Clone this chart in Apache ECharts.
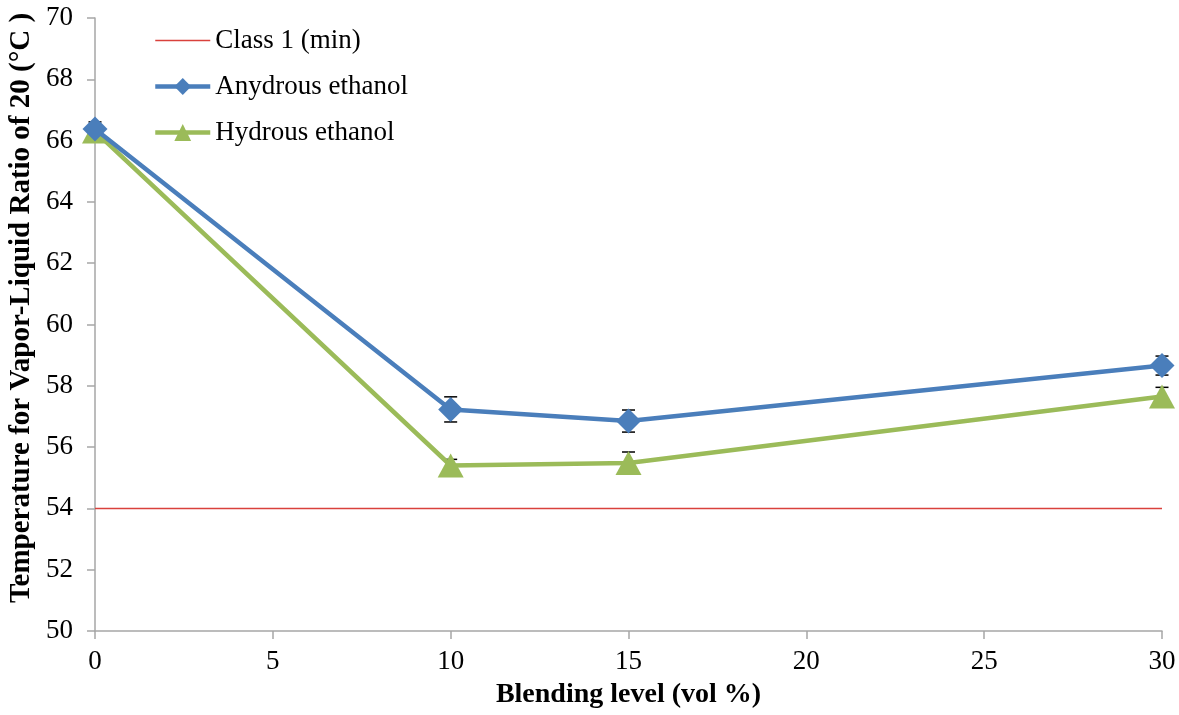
<!DOCTYPE html>
<html><head><meta charset="utf-8">
<script src="https://cdn.jsdelivr.net/npm/echarts@6/dist/echarts.min.js"></script>
<style>html,body{margin:0;padding:0;background:#fff}#c{width:1179px;height:715px}</style>
</head><body><div id="c"></div>
<script>
const blending = [0, 10, 15, 30];
const anhydrous = [66.38, 57.23, 56.85, 58.66];
const anhydrousErr = [0.23, 0.41, 0.36, 0.31];
const hydrous = [66.3, 55.4, 55.48, 57.65];
const hydrousErr = [0.15, 0.2, 0.36, 0.3];
const class1Min = 54;
const xTicks = [0, 5, 10, 15, 20, 25, 30];
const yTicks = [50, 52, 54, 56, 58, 60, 62, 64, 66, 68, 70];
const yTitle = 'Temperature for Vapor-Liquid Ratio of 20 (\u00B0C )';
const xTitle = 'Blending level (vol %)';

const font = 'Liberation Serif';
const axisGray = '#A6A6A6';
function pts(xs, ys){ return xs.map((x,i)=>[x, ys[i]]); }
function errData(xs, ys, es){ return xs.map((x,i)=>[x, ys[i]-es[i], ys[i]+es[i]]); }
function errSeries(data){
  return {
    type:'custom', silent:true, z:2,
    renderItem:function(params, api){
      const x = api.value(0);
      const lo = api.coord([x, api.value(1)]);
      const hi = api.coord([x, api.value(2)]);
      const w = 6.5;
      const st = {stroke:'#000', lineWidth:1.5};
      return {type:'group', children:[
        {type:'line', shape:{x1:lo[0],y1:lo[1],x2:hi[0],y2:hi[1]}, style:st},
        {type:'line', shape:{x1:lo[0]-w,y1:lo[1],x2:lo[0]+w,y2:lo[1]}, style:st},
        {type:'line', shape:{x1:hi[0]-w,y1:hi[1],x2:hi[0]+w,y2:hi[1]}, style:st}
      ]};
    },
    data:data
  };
}
const chart = echarts.init(document.getElementById('c'));
chart.setOption({
  animation:false,
  textStyle:{fontFamily:font},
  grid:{left:95, right:17, top:18, bottom:84, containLabel:false, outerBoundsMode:'none'},
  graphic:[{
    type:'text', x:22, y:308, rotation:Math.PI/2,
    style:{text:yTitle, fontFamily:font, fontSize:29, fontWeight:'bold', fill:'#000', align:'center', verticalAlign:'middle'}
  }],
  legend:{
    orient:'vertical', left:148, top:22, itemGap:19, itemWidth:55, itemHeight:21,
    textStyle:{fontFamily:font, fontSize:27, color:'#000'},
    data:[
      {name:'Class 1 (min)', itemStyle:{opacity:0}, lineStyle:{width:1.5, color:'#D9413C'}},
      {name:'Anydrous ethanol', lineStyle:{width:4.5, color:'#4A7EBB'}},
      {name:'Hydrous ethanol', lineStyle:{width:4.5, color:'#9BBB59'}}
    ]
  },
  xAxis:{
    type:'value', min:xTicks[0], max:xTicks[xTicks.length-1], interval:xTicks[1]-xTicks[0],
    name:xTitle, nameLocation:'middle', nameGap:50,
    nameTextStyle:{fontFamily:font, fontSize:28, fontWeight:'bold', color:'#000'},
    axisLine:{lineStyle:{color:axisGray, width:1.5}},
    axisTick:{show:true, inside:false, length:8, lineStyle:{color:axisGray, width:1.5}},
    axisLabel:{fontFamily:font, fontSize:27, color:'#000', margin:17},
    splitLine:{show:false}
  },
  yAxis:{
    type:'value', min:yTicks[0], max:yTicks[yTicks.length-1], interval:yTicks[1]-yTicks[0],
    axisLine:{show:true, lineStyle:{color:axisGray, width:1.5}},
    axisTick:{show:true, inside:false, length:8, lineStyle:{color:axisGray, width:1.5}},
    axisLabel:{fontFamily:font, fontSize:27, color:'#000', margin:22},
    splitLine:{show:false}
  },
  series:[
    {name:'Class 1 (min)', type:'line', data:[[xTicks[0], class1Min],[xTicks[xTicks.length-1], class1Min]],
     symbol:'none', lineStyle:{color:'#D9413C', width:1.5}, itemStyle:{color:'#D9413C'}, z:1},
    errSeries(errData(blending, anhydrous, anhydrousErr)),
    errSeries(errData(blending, hydrous, hydrousErr)),
    {name:'Anydrous ethanol', type:'line', data:pts(blending, anhydrous),
     symbol:'diamond', symbolSize:25, lineStyle:{color:'#4A7EBB', width:4.5}, itemStyle:{color:'#4A7EBB'}, z:4},
    {name:'Hydrous ethanol', type:'line', data:pts(blending, hydrous),
     symbol:'triangle', symbolSize:[26,24], lineStyle:{color:'#9BBB59', width:4.5}, itemStyle:{color:'#9BBB59'}, z:3}
  ]
});
</script></body></html>
